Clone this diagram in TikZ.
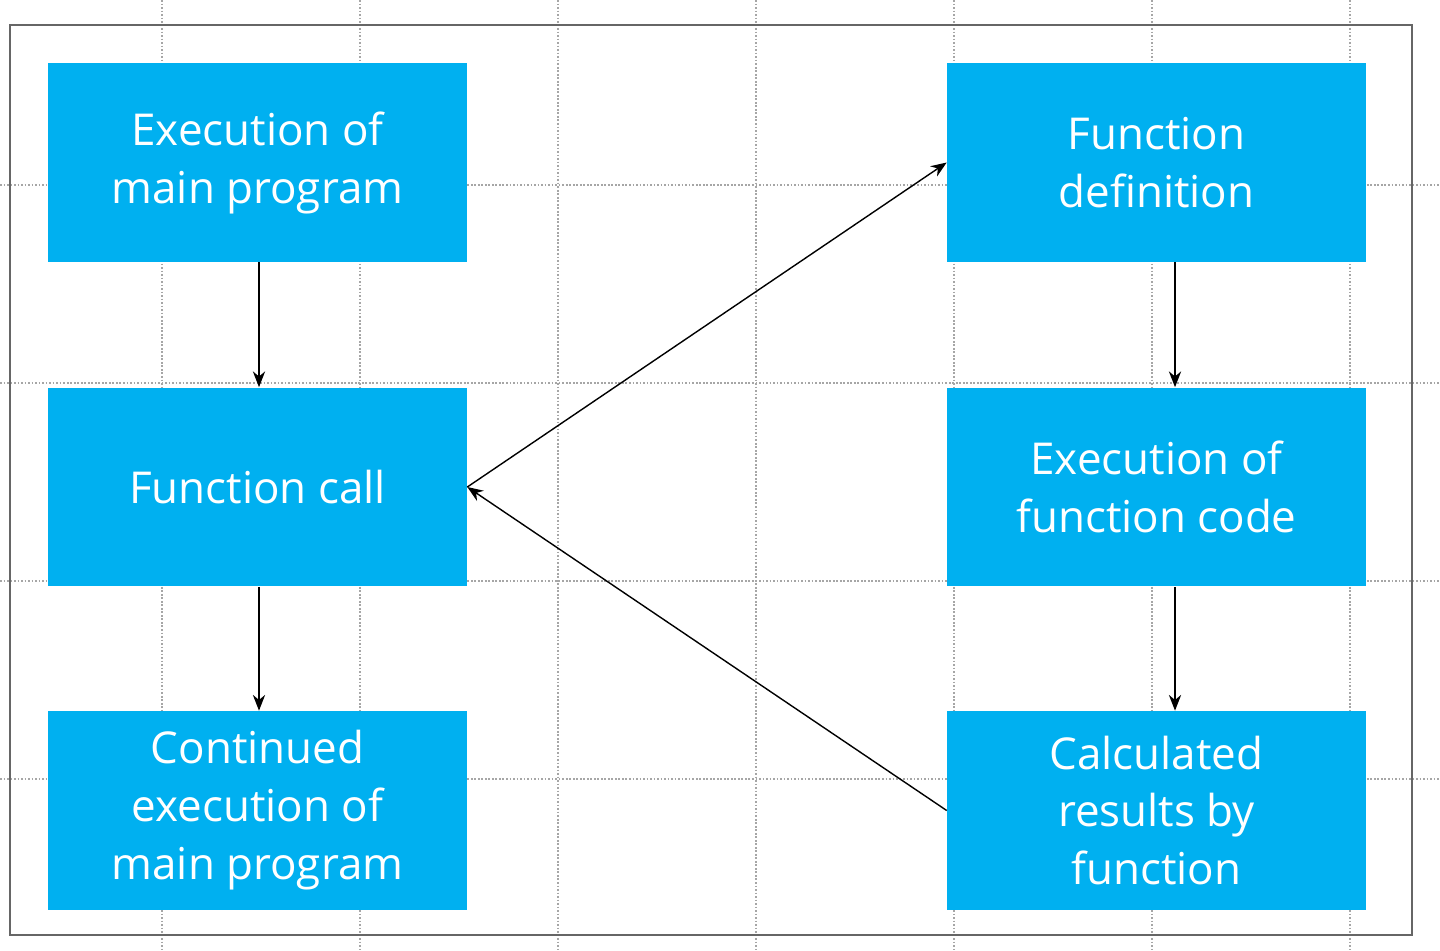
\documentclass[tikz,border=0pt]{standalone}
\usepackage{fontspec}
\setmainfont{Open Sans}
\usetikzlibrary{arrows.meta}
\definecolor{boxblue}{RGB}{0,176,240}

\begin{document}
\begin{tikzpicture}[x=0.02cm,y=-0.02cm,
  box/.style={fill=boxblue,text=white,minimum width=8.38cm,minimum height=3.98cm,
    align=center,font=\fontsize{25}{33}\selectfont,inner sep=0pt},
  flow/.style={-{Stealth[length=9pt,width=7pt]},thick}]
\useasboundingbox (0,0) rectangle (1440,950);
% grid and frame
\foreach \x in {162,360,558,756,954,1152,1350}
  \draw [gray!70,densely dotted,line width=1pt] (\x,0) -- (\x,950);
\foreach \y in {185,383,581,779}
  \draw [gray!70,densely dotted,line width=1pt] (0,\y) -- (1440,\y);
\draw [gray!80!black,line width=1.2pt] (10,25) rectangle (1412,935);

\node [box] (main) at (257.5,162.5) {Execution of\\main program};
\node [box] (call) at (257.5,487) {Function call};
\node [box] (cont) at (257.5,810.5) {Continued\\execution of\\main program};
\node [box] (def) at (1156.5,162.5) {Function\\definition};
\node [box] (exec) at (1156.5,487) {Execution of\\function code};
\node [box] (res) at (1156.5,810.5) {Calculated\\results by\\function};

\draw [flow] (main.south -| 259,0) -- (call.north -| 259,0);
\draw [flow] (call.south -| 259,0) -- (cont.north -| 259,0);
\draw [flow] (def.south -| 1175,0) -- (exec.north -| 1175,0);
\draw [flow] (exec.south -| 1175,0) -- (res.north -| 1175,0);
\draw [flow] (call.east) -- (def.west);
\draw [flow] (res.west) -- (call.east);
\end{tikzpicture}
\end{document}
